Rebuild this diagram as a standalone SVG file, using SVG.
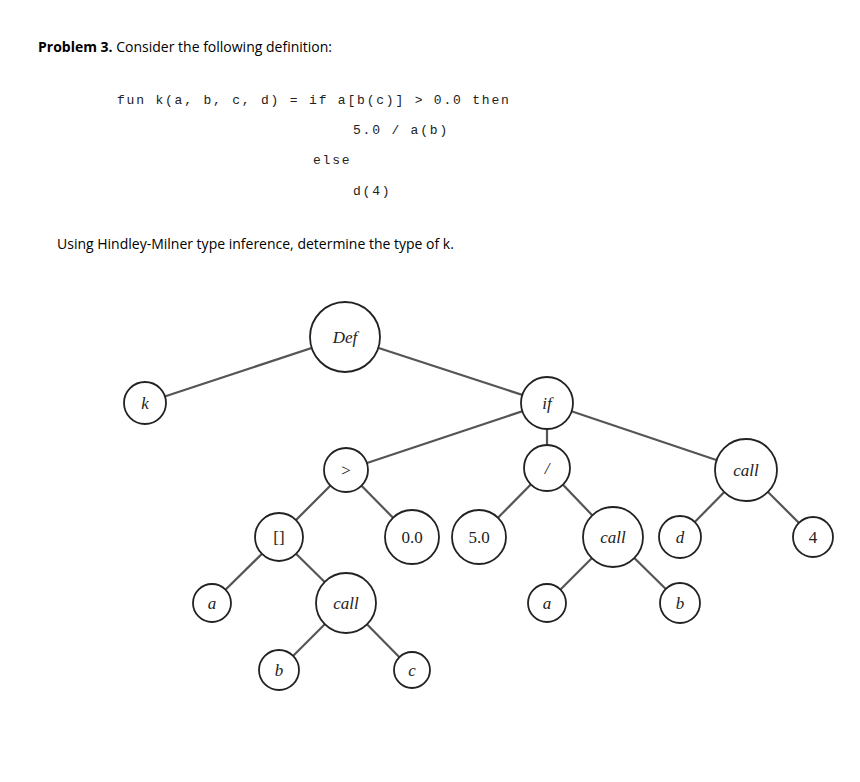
<svg xmlns="http://www.w3.org/2000/svg" width="860" height="782" viewBox="0 0 860 782">
<style>
.t{font-family:"Open Sans","Liberation Sans",sans-serif;font-size:14px;fill:#000}
.c{font-family:"Liberation Mono",monospace;font-size:13px;letter-spacing:1.8px;fill:#222}
circle{fill:#fff;stroke:#222;stroke-width:1.8}
.e line{stroke:#555;stroke-width:2.2}
.m{font-family:"Liberation Serif",serif;font-style:italic;font-size:17px;fill:#222;text-anchor:middle;dominant-baseline:central}
.n{font-family:"Liberation Serif",serif;font-size:17px;fill:#222;text-anchor:middle;dominant-baseline:central}
</style>
<rect width="860" height="782" fill="#fff"/>
<text class="t" x="38" y="52"><tspan font-weight="bold">Problem 3.</tspan> Consider the following definition:</text>
<text class="c" x="117" y="104">fun k(a, b, c, d)  = if a[b(c)] &gt; 0.0 then</text>
<text class="c" x="353" y="134">5.0 / a(b)</text>
<text class="c" x="313" y="164">else</text>
<text class="c" x="353" y="195">d(4)</text>
<text class="t" x="57" y="249">Using Hindley-Milner type inference, determine the type of k.</text>
<g class="e" id="edges">
<line x1="345" y1="337" x2="145" y2="403"/>
<line x1="345" y1="337" x2="547" y2="403"/>
<line x1="547" y1="403" x2="346" y2="470"/>
<line x1="547" y1="403" x2="547" y2="468"/>
<line x1="547" y1="403" x2="746" y2="470"/>
<line x1="346" y1="470" x2="279" y2="537"/>
<line x1="346" y1="470" x2="412" y2="537"/>
<line x1="547" y1="468" x2="479" y2="537"/>
<line x1="547" y1="468" x2="613" y2="537"/>
<line x1="279" y1="537" x2="212" y2="603"/>
<line x1="279" y1="537" x2="346" y2="603"/>
<line x1="346" y1="603" x2="279" y2="670"/>
<line x1="346" y1="603" x2="412" y2="670"/>
<line x1="613" y1="537" x2="547" y2="603"/>
<line x1="613" y1="537" x2="680" y2="603"/>
<line x1="746" y1="470" x2="680" y2="537"/>
<line x1="746" y1="470" x2="813" y2="537"/>
</g>
<g id="def"><circle cx="345" cy="337" r="35"/><text class="m" x="345" y="337">Def</text></g>
<g id="k"><circle cx="145" cy="403" r="21"/><text class="m" x="145" y="403">k</text></g>
<g id="if"><circle cx="547" cy="403" r="26"/><text class="m" x="547" y="403">if</text></g>
<g id="gt"><circle cx="346" cy="470" r="22"/><text class="n" x="346" y="470">&gt;</text></g>
<g id="div"><circle cx="547" cy="468" r="23"/><text class="m" x="547" y="468">/</text></g>
<g id="call3"><circle cx="746" cy="470" r="31"/><text class="m" x="746" y="470">call</text></g>
<g id="idx"><circle cx="279" cy="537" r="24"/><text class="n" x="279" y="537">[]</text></g>
<g id="f00"><circle cx="412" cy="537" r="27"/><text class="n" x="412" y="537">0.0</text></g>
<g id="f50"><circle cx="479" cy="537" r="27"/><text class="n" x="479" y="537">5.0</text></g>
<g id="call2"><circle cx="613" cy="537" r="30"/><text class="m" x="613" y="537">call</text></g>
<g id="d"><circle cx="680" cy="537" r="21"/><text class="m" x="680" y="537">d</text></g>
<g id="four"><circle cx="813" cy="537" r="20"/><text class="n" x="813" y="537">4</text></g>
<g id="a1"><circle cx="212" cy="603" r="19"/><text class="m" x="212" y="603">a</text></g>
<g id="call1"><circle cx="346" cy="603" r="30"/><text class="m" x="346" y="603">call</text></g>
<g id="a2"><circle cx="547" cy="603" r="19"/><text class="m" x="547" y="603">a</text></g>
<g id="b2"><circle cx="680" cy="603" r="20"/><text class="m" x="680" y="603">b</text></g>
<g id="b1"><circle cx="279" cy="670" r="20"/><text class="m" x="279" y="670">b</text></g>
<g id="c1"><circle cx="412" cy="670" r="18"/><text class="m" x="412" y="670">c</text></g>
</svg>
